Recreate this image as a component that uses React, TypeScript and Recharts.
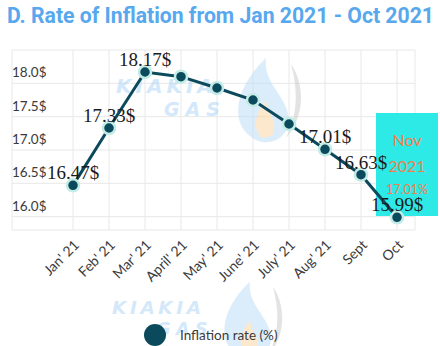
import React from "react";
import {
  LineChart,
  Line,
  XAxis,
  YAxis,
  CartesianGrid,
  Legend,
  LabelList,
  Customized,
} from "recharts";

const MONTHS = [
  "Jan' 21",
  "Feb' 21",
  "Mar' 21",
  "April' 21",
  "May' 21",
  "June' 21",
  "July' 21",
  "Aug' 21",
  "Sept",
  "Oct",
];
const RATES = [16.47, 17.33, 18.17, 18.1, 17.93, 17.75, 17.39, 17.01, 16.63, 15.99];
const LABELLED = [true, true, true, false, false, false, false, true, true, true];
const Y_TICKS = [16, 16.5, 17, 17.5, 18];

const NOTE_LINES = ["Nov", "2021", "17.01%"];

const LINE_COLOR = "#0b4a5c";
const HALO = "#c4ece6";
const TEXT = "#3a3a3a";
const SANS = "Lato, 'Open Sans', sans-serif";

const data = MONTHS.map((m, i) => ({ month: m, rate: RATES[i], labelled: LABELLED[i] }));

const YTick = ({ y, payload }: any) => (
  <text x={12} y={y - 6} fontSize={13.5} fontFamily={SANS} fill={TEXT}>
    {Number(payload.value).toFixed(1)}$
  </text>
);

const XTick = ({ x, y, payload }: any) => (
  <text
    x={x + 7}
    y={y + 8}
    fontSize={14}
    fontFamily={SANS}
    fill={TEXT}
    textAnchor="end"
    transform={`rotate(-45, ${x + 7}, ${y + 8})`}
  >
    {payload.value}
  </text>
);

const PointLabel = (props: any) => {
  const { x, y, value, index } = props;
  if (!LABELLED[index]) return null;
  return (
    <text
      x={x}
      y={y - 6}
      textAnchor="middle"
      fontSize={19}
      fontFamily="'Liberation Serif', 'DejaVu Serif', serif"
      fill="#1a1a1a"
    >
      {value}$
    </text>
  );
};

// Nov 2021 note box, sits on top of the grid but below the line
const NoteBox = () => (
  <g>
    <rect x={376} y={113} width={62} height={103} fill="#2deae6" />
    <text x={407} y={146} textAnchor="middle" fontSize={16} fontFamily={SANS} fill="#f07e4e">
      {NOTE_LINES[0]}
    </text>
    <text x={407} y={172} textAnchor="middle" fontSize={16} fontFamily={SANS} fill="#f07e4e">
      {NOTE_LINES[1]}
    </text>
    <text x={407} y={194} textAnchor="middle" fontSize={12.5} fontFamily={SANS} fill="#f07e4e">
      {NOTE_LINES[2]}
    </text>
  </g>
);

// faint "KIAKIA GAS" logo watermark
const Watermark = ({ x, y, s = 1 }: { x: number; y: number; s?: number }) => (
  <g opacity={0.5} transform={`translate(${x}, ${y}) scale(${s})`}>
    <path
      d="M140 62 C112 48 118 10 150 -20 C146 8 178 22 172 48 C168 62 152 68 140 62 Z"
      fill="#b9dcf8"
    />
    <path
      d="M175 -14 C190 8 188 40 170 60 C182 36 182 12 175 -14 Z"
      fill="#c8c8c8"
    />
    <path d="M146 60 C134 48 142 32 150 22 C150 36 164 42 156 58 Z" fill="#fbd39a" />
    <text
      x={0}
      y={15}
      fontSize={20}
      fontWeight={900}
      fontStyle="italic"
      fontFamily="'DejaVu Sans', sans-serif"
      fill="#a9d2f6"
      letterSpacing={4}
    >
      KIAKIA
    </text>
    <text
      x={48}
      y={38}
      fontSize={19}
      fontWeight={900}
      fontStyle="italic"
      fontFamily="'DejaVu Sans', sans-serif"
      fill="#a9d2f6"
      letterSpacing={6}
    >
      GAS
    </text>
  </g>
);

const LegendContent = () => (
  <svg width={440} height={30}>
    <circle cx={155} cy={15} r={11} fill={LINE_COLOR} />
    <text x={180} y={20} fontSize={13.5} fontFamily={SANS} fill={TEXT}>
      Inflation rate (%)
    </text>
  </svg>
);

export default function App() {
  return (
    <div
      style={{
        position: "absolute",
        left: 0,
        top: 0,
        width: 440,
        height: 346,
        background: "#fff",
      }}
    >
      <div
        style={{
          position: "absolute",
          left: 7,
          top: 3,
          fontFamily: "'Liberation Sans Narrow', 'Roboto', sans-serif",
          fontWeight: 700,
          fontSize: 21.2,
          color: "#58a8ee",
          whiteSpace: "nowrap",
          zIndex: 2,
        }}
      >
        D. Rate of Inflation from Jan 2021 - Oct 2021
      </div>
      <LineChart
        width={440}
        height={346}
        data={data}
        margin={{ top: 50, right: 25, bottom: 26, left: 11 }}
      >
        <Customized component={() => <Watermark x={116} y={78} />} />
        <Customized component={() => <Watermark x={112} y={300} s={0.92} />} />
        <CartesianGrid stroke="#e8e8e8" strokeWidth={1} />
        <XAxis
          dataKey="month"
          padding={{ left: 61, right: 18 }}
          axisLine={false}
          tickLine={false}
          height={60}
          interval={0}
          tick={<XTick />}
        />
        <YAxis
          type="number"
          domain={[15.8, 18.5]}
          ticks={Y_TICKS}
          width={1}
          axisLine={false}
          tickLine={false}
          tick={<YTick />}
        />
        <Customized component={NoteBox} />
        <Legend
          content={<LegendContent />}
          verticalAlign="bottom"
          wrapperStyle={{ top: 320, bottom: "auto", left: 0, width: 440, height: 30 }}
        />
        <Line
          type="linear"
          dataKey="rate"
          name="Inflation rate (%)"
          stroke={LINE_COLOR}
          strokeWidth={3}
          dot={{ r: 6, fill: LINE_COLOR, stroke: HALO, strokeWidth: 2.5 }}
          activeDot={false}
          isAnimationActive={false}
        >
          <LabelList dataKey="rate" content={<PointLabel />} />
        </Line>
      </LineChart>
    </div>
  );
}
